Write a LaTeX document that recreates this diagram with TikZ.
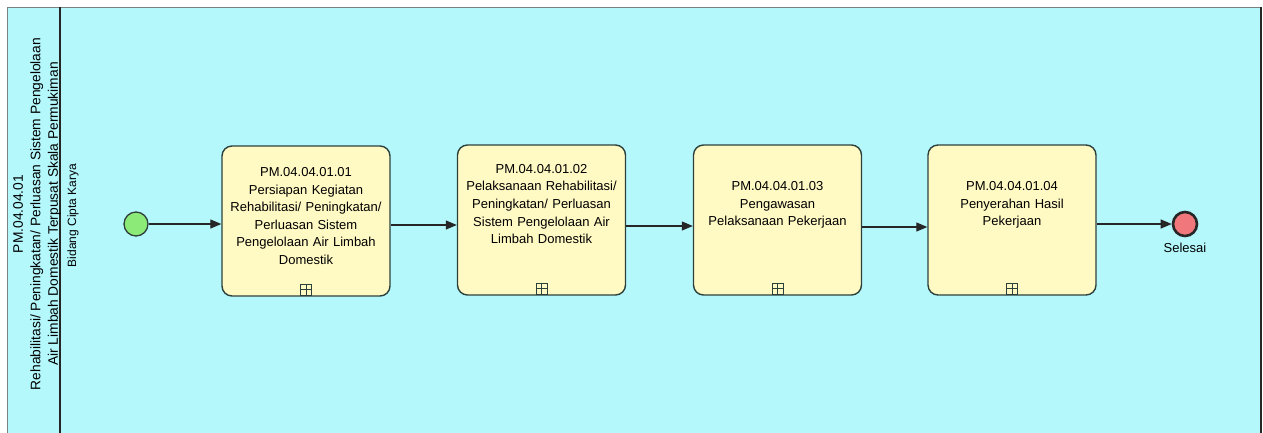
\documentclass[tikz,border=0pt]{standalone}
\usepackage{fontspec}
\setmainfont{Liberation Sans}
\usetikzlibrary{arrows.meta}
\definecolor{lanebg}{RGB}{180,248,252}
\definecolor{taskfill}{RGB}{255,249,196}
\definecolor{taskdraw}{RGB}{45,65,60}
\definecolor{startfill}{RGB}{140,235,120}
\definecolor{endfill}{RGB}{240,120,125}
\definecolor{edgegray}{RGB}{120,130,130}
\begin{document}
\begin{tikzpicture}[x=1pt,y=-1pt,
  task/.style={draw=taskdraw, line width=1.4pt, fill=taskfill, rounded corners=10pt,
    minimum width=168pt, minimum height=150pt, inner sep=0pt},
  tasktext/.style={align=center, font=\fontsize{13}{17.6}\selectfont, text width=166pt, inner sep=0pt},
  marker/.style={draw=taskdraw, line width=0.8pt, fill=taskfill, minimum size=11pt, inner sep=0pt,
    path picture={\draw[taskdraw, line width=0.8pt]
      (path picture bounding box.north) -- (path picture bounding box.south)
      (path picture bounding box.west) -- (path picture bounding box.east);}},
  flow/.style={draw=black!85, line width=1.1pt, -{Triangle[length=11pt,width=9pt]}},
  startev/.style={circle, draw=taskdraw, line width=1.3pt, fill=startfill, minimum size=24pt, inner sep=0pt},
  endev/.style={circle, draw=black!85, line width=2.6pt, fill=endfill, minimum size=24pt, inner sep=0pt},
  lbl/.style={font=\fontsize{13}{17.6}\selectfont, inner sep=0pt, align=center}
]
\useasboundingbox (0,0) rectangle (1263,432);
% pool background
\fill[lanebg] (7,7) rectangle (1261,440);
\draw[edgegray, line width=0.8pt] (7,440) -- (7,7) -- (1261,7);
\draw[black!85, line width=2pt] (1261,7) -- (1261,440);
\draw[black!85, line width=2pt] (60,7) -- (60,440);
% pool and lane titles
\node[lbl, rotate=90, font=\fontsize{13.8}{17.6}\selectfont] (pool) at (37,214) {PM.04.04.01\\Rehabilitasi/ Peningkatan/ Perluasan Sistem Pengelolaan\\Air Limbah Domestik Terpusat Skala Permukiman};
\node[lbl, rotate=90, font=\fontsize{12}{14}\selectfont] (lane) at (73,215.5) {Bidang Cipta Karya};
% events
\node[startev] (start) at (136,224) {};
\node[endev] (end) at (1185,224) {};
\node[lbl, anchor=north] (endlbl) at (1185,243) {Selesai};
% tasks
\node[task] (t1) at (306,221) {};
\node[task] (t2) at (541.5,220) {};
\node[task] (t3) at (777.5,220) {};
\node[task] (t4) at (1012,220) {};
\node[tasktext] (t1x) at (306,216) {PM.04.04.01.01\\Persiapan Kegiatan\\Rehabilitasi/ Peningkatan/\\Perluasan Sistem\\Pengelolaan Air Limbah\\Domestik};
\node[tasktext] (t2x) at (541.5,204) {PM.04.04.01.02\\Pelaksanaan Rehabilitasi/\\Peningkatan/ Perluasan\\Sistem Pengelolaan Air\\Limbah Domestik};
\node[tasktext] (t3x) at (777.5,205) {PM.04.04.01.03\\Pengawasan\\Pelaksanaan Pekerjaan};
\node[tasktext] (t4x) at (1012,205) {PM.04.04.01.04\\Penyerahan Hasil\\Pekerjaan};
\node[marker] (m1) at ([yshift=7pt]t1.south) {};
\node[marker] (m2) at ([yshift=7pt]t2.south) {};
\node[marker] (m3) at ([yshift=7pt]t3.south) {};
\node[marker] (m4) at ([yshift=7pt]t4.south) {};
% flows
\draw[flow] (start) -- (start -| t1.west);
\draw[flow] ([yshift=-4pt]t1.east) -- ([yshift=-4pt]t1.east -| t2.west);
\draw[flow] ([yshift=-6pt]t2.east) -- ([yshift=-6pt]t2.east -| t3.west);
\draw[flow] ([yshift=-7pt]t3.east) -- ([yshift=-7pt]t3.east -| t4.west);
\draw[flow] (end -| t4.east) -- (end);
\end{tikzpicture}
\end{document}
